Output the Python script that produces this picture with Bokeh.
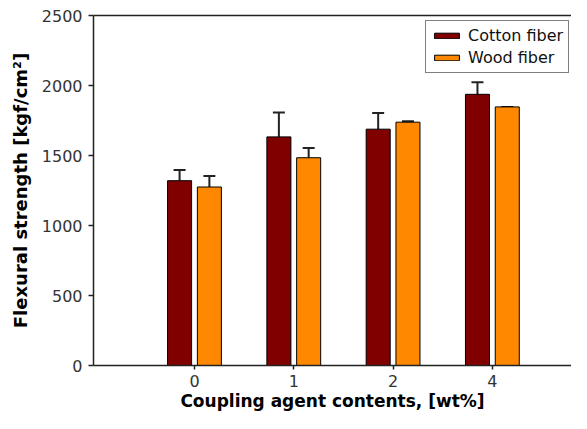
from bokeh.plotting import figure
from bokeh.models import (ColumnDataSource, Whisker, TeeHead, Legend, LegendItem,
                          FixedTicker, LinearAxis, Range1d)
from bokeh.transform import dodge
from bokeh.embed import file_html
from bokeh.resources import INLINE

categories = ["0", "1", "2", "4"]
cotton = [1320, 1633, 1688, 1937]
cotton_err = [76, 174, 116, 86]
wood = [1275, 1484, 1738, 1847]
wood_err = [78, 69, 7, 0]

xi = list(range(len(categories)))
src = ColumnDataSource(dict(
    x=xi,
    cotton=cotton,
    cotton_top=[v + e for v, e in zip(cotton, cotton_err)],
    wood=wood,
    wood_top=[v + e for v, e in zip(wood, wood_err)],
))

FONT = "DejaVu Sans"
AX = "#222222"

p = figure(width=571, height=413, output_backend="svg", toolbar_location=None,
           x_range=Range1d(-1.017, 3.797), y_range=Range1d(0, 2500),
           min_border_left=93, min_border_right=0, min_border_top=15, min_border_bottom=0)
p.outline_line_color = None
p.grid.visible = False
p.background_fill_color = "white"

OFF = 0.15
W = 0.242
r1 = p.vbar(x=dodge("x", -OFF), top="cotton", width=W, source=src,
            fill_color="#800000", line_color="black", line_width=1)
r2 = p.vbar(x=dodge("x", OFF), top="wood", width=W, source=src,
            fill_color="#ff8800", line_color="black", line_width=1)

for val, top, off in (("cotton", "cotton_top", -OFF), ("wood", "wood_top", OFF)):
    w = Whisker(source=src, base=dodge("x", off), lower=val, upper=top,
                lower_head=None,
                upper_head=TeeHead(size=12, line_width=2, line_color=AX),
                line_width=2, line_color=AX, level="underlay")
    p.add_layout(w)

# axes
xa = p.xaxis[0]
xa.ticker = FixedTicker(ticks=xi)
xa.major_label_overrides = {i: c for i, c in zip(xi, categories)}
xa.axis_label = "Coupling agent contents, [wt%]"
ya = p.yaxis[0]
ya.ticker = FixedTicker(ticks=[0, 500, 1000, 1500, 2000, 2500])
ya.axis_label = "Flexural strength [kgf/cm²]"

for ax in (xa, ya):
    ax.axis_line_color = AX
    ax.axis_line_width = 1.5
    ax.major_tick_line_color = AX
    ax.major_tick_line_width = 1.5
    ax.major_tick_out = 5
    ax.major_tick_in = 0
    ax.minor_tick_line_color = None
    ax.major_label_text_font = FONT
    ax.major_label_text_font_size = "16px"
    ax.major_label_text_color = "#333333"
    ax.axis_label_text_font = FONT
    ax.axis_label_text_font_style = "bold"
    ax.axis_label_text_color = "black"

xa.major_tick_out = 4
xa.major_label_standoff = 5
xa.axis_label_standoff = 1
xa.axis_label_text_font_size = "17px"
ya.major_label_standoff = 6
ya.axis_label_standoff = 8
ya.axis_label_text_font_size = "18px"

top_ax = LinearAxis(ticker=FixedTicker(ticks=[]), major_label_text_font_size="0px",
                    major_tick_out=0, major_tick_in=0, minor_tick_out=0, minor_tick_in=0,
                    axis_line_color=AX, axis_line_width=1.5, major_label_standoff=0)
p.add_layout(top_ax, "above")

legend = Legend(items=[LegendItem(label="Cotton fiber", renderers=[r1]),
                       LegendItem(label="Wood fiber", renderers=[r2])],
                location=(332, 292), orientation="vertical")
legend.label_text_font = FONT
legend.label_text_font_size = "16px"
legend.label_text_color = "#111111"
legend.glyph_width = 31
legend.glyph_height = 7
legend.label_standoff = 6
legend.padding = 5
legend.spacing = 3
legend.border_line_color = "black"
legend.border_line_width = 1
legend.background_fill_color = "white"
legend.background_fill_alpha = 1
p.add_layout(legend, "center")

open("out.html", "w").write(file_html(p, INLINE))
